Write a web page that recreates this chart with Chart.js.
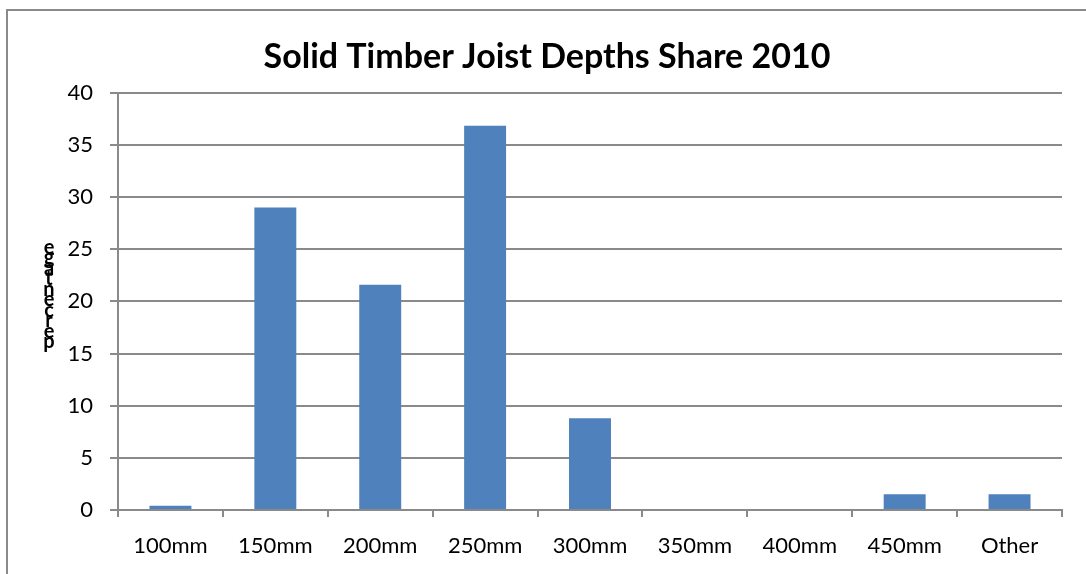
<!DOCTYPE html>
<html>
<head>
<meta charset="utf-8">
<script src="https://cdn.jsdelivr.net/npm/chart.js@4.4.1/dist/chart.umd.min.js"></script>
<style>
  html, body { margin: 0; padding: 0; background: #ffffff; }
  #wrap { width: 1086px; height: 574px; }
</style>
</head>
<body>
<div id="wrap"><canvas id="jointChart" width="1086" height="574"></canvas></div>
<script>
const categories = ["100mm", "150mm", "200mm", "250mm", "300mm", "350mm", "400mm", "450mm", "Other"];
const shares = [0.4, 29.0, 21.6, 36.85, 8.8, 0, 0, 1.5, 1.5];
const yTicks = [0, 5, 10, 15, 20, 25, 30, 35, 40];
const yTitle = "percentage";

const gridGrey = "#8a8a8a";
const fontFamily = "Lato, 'Open Sans', sans-serif";

// outer frame and the stacked-letter y title, as in the original image
const framePlugin = {
  id: "frame",
  beforeDraw(chart) {
    const c = chart.ctx;
    c.save();
    c.fillStyle = "#ffffff";
    c.fillRect(0, 0, chart.width, chart.height);
    c.strokeStyle = gridGrey;
    c.lineWidth = 2;
    c.beginPath();
    c.moveTo(7, chart.height + 2);
    c.lineTo(7, 10);
    c.lineTo(chart.width + 2, 10);
    c.stroke();
    c.restore();
  },
  afterDraw(chart) {
    const c = chart.ctx;
    c.save();
    c.fillStyle = "#000000";
    c.font = "bold 20px " + fontFamily;
    c.textAlign = "center";
    c.textBaseline = "alphabetic";
    let y = 348;
    for (const ch of yTitle) {
      c.fillText(ch, 49, y);
      y -= 10.5;
    }
    c.restore();
  }
};

new Chart(document.getElementById("jointChart"), {
  type: "bar",
  data: {
    labels: categories,
    datasets: [
      {
        label: "Share",
        data: shares,
        backgroundColor: "#4f81bd",
        borderWidth: 0,
        categoryPercentage: 1.0,
        barPercentage: 0.4,
      },
    ],
  },
  options: {
    responsive: false,
    animation: false,
    layout: {
      padding: { left: 32, right: 24, top: 0, bottom: 0 },
    },
    plugins: {
      legend: { display: false },
      tooltip: { enabled: false },
      title: {
        display: true,
        text: "Solid Timber Joist Depths Share 2010",
        color: "#000000",
        font: { family: fontFamily, size: 34, weight: "bold" },
        padding: { top: 37, bottom: 15 },
      },
    },
    scales: {
      x: {
        grid: {
          display: true,
          drawOnChartArea: false,
          drawTicks: true,
          tickLength: 7,
          color: gridGrey,
          lineWidth: 2,
        },
        border: { display: true, color: gridGrey, width: 2 },
        ticks: {
          color: "#000000",
          font: { family: fontFamily, size: 22 },
          padding: 16,
          maxRotation: 0,
        },
        afterFit(scale) {
          scale.height = 64;
        },
      },
      y: {
        min: 0,
        max: 40,
        afterBuildTicks(scale) {
          scale.ticks = yTicks.map((v) => ({ value: v }));
        },
        grid: {
          color: gridGrey,
          lineWidth: 2,
          drawTicks: true,
          tickLength: 8,
        },
        border: { display: true, color: gridGrey, width: 2 },
        ticks: {
          color: "#000000",
          font: { family: fontFamily, size: 22 },
          padding: 17,
        },
        afterFit(scale) {
          scale.width = 86;
        },
      },
    },
  },
  plugins: [framePlugin],
});
</script>
</body>
</html>
